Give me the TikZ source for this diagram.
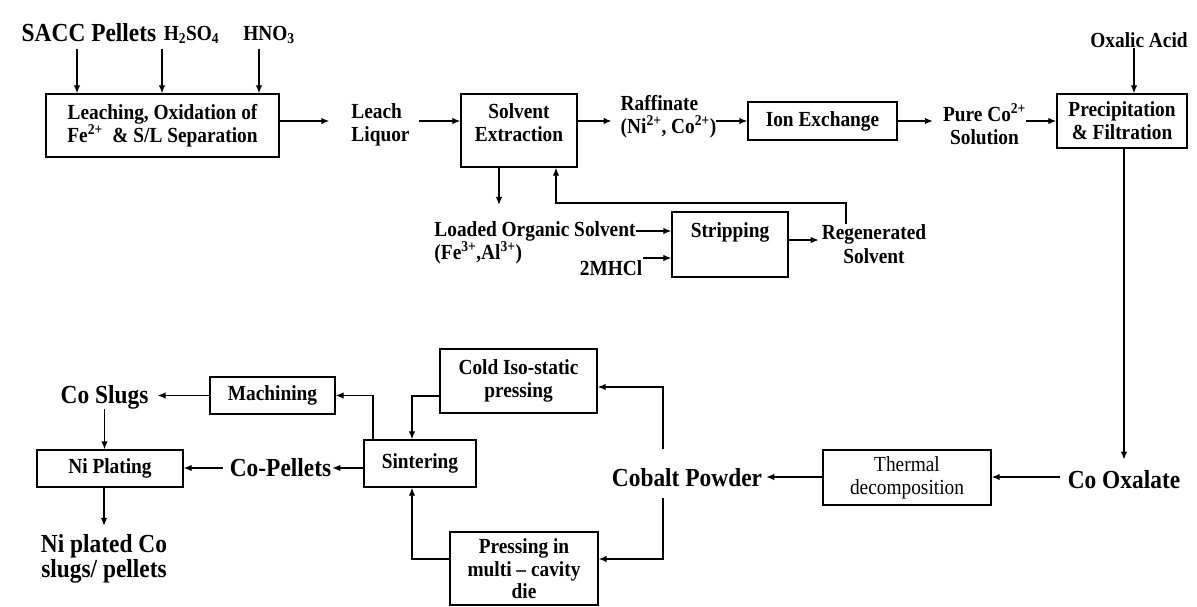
\documentclass[tikz,border=0pt]{standalone}
\usepackage{fontspec}
\setmainfont{Liberation Serif}[FakeStretch=0.9]
\usetikzlibrary{arrows.meta,calc}
\begin{document}
\begin{tikzpicture}[x=1pt,y=-1pt,
  box/.style={draw, line width=1.4pt, inner sep=0pt, align=center, font=\bfseries\fontsize{21.5}{23}\selectfont},
  frame/.style={draw, line width=1.4pt, inner sep=0pt},
  lbl/.style={inner sep=0pt, align=center, font=\bfseries\fontsize{21.5}{23}\selectfont},
  big/.style={inner sep=0pt, align=center, font=\bfseries\fontsize{26}{25}\selectfont},
  arr/.style={line width=1.3pt, -{Latex[length=8pt,width=6.5pt]}}]
\useasboundingbox[fill=white] (0,0) rectangle (1197,606);

% rows
\coordinate (r1) at (0,121);
\coordinate (r2) at (0,231);
\coordinate (r2b) at (0,258);
\coordinate (r2c) at (0,240);
\coordinate (ret) at (0,203);
\coordinate (r3) at (0,477);
\coordinate (cpx) at (663,0);

% top row
\node[big] (sacc) at (89,33) {SACC Pellets};
\node[lbl] (h2so4) at (191.5,35) {H\textsubscript{2}SO\textsubscript{4}};
\node[lbl] (hno3) at (269,35) {HNO\textsubscript{3}};
\node[box, minimum width=233, minimum height=63] (leach) at (162.5,125.5) {Leaching, Oxidation of\\Fe\textsuperscript{2+}\ \ \& S/L Separation};
\node[lbl, align=left] (liq) at (380.5,124.5) {Leach\\Liquor};
\node[frame, minimum width=116, minimum height=73] (se) at (519,130.5) {};
\node[lbl] (set) at (519,123) {Solvent\\Extraction};
\node[lbl, align=left] (raff) at (668.5,116.5) {Raffinate\\(Ni\textsuperscript{2+}, Co\textsuperscript{2+})};
\node[box, minimum width=149, minimum height=38] (ion) at (822.5,121) {Ion Exchange};
\node[lbl] (pure) at (984.5,124) {Pure Co\textsuperscript{2+}\\Solution};
\node[box, minimum width=130, minimum height=54] (precip) at (1122,121) {Precipitation\\\& Filtration};
\node[lbl] (ox) at (1139,40) {Oxalic Acid};

% stripping loop
\node[lbl, align=left, font=\bfseries\fontsize{21.5}{21}\selectfont] (load) at (535,242.5) {Loaded Organic Solvent\\(Fe\textsuperscript{3+},Al\textsuperscript{3+})};
\node[lbl] (hcl) at (611,268) {2MHCl};
\node[frame, minimum width=116, minimum height=65] (strip) at (730,244.5) {};
\node[lbl] (stript) at (730,232) {Stripping};
\node[lbl, font=\bfseries\fontsize{21.5}{24}\selectfont] (regen) at (874,244) {Regenerated\\Solvent};

% bottom part
\node[big] (coox) at (1124,480) {Co Oxalate};
\node[box, font=\fontsize{21.5}{23}\selectfont, minimum width=168, minimum height=55] (therm) at (907,477.5) {Thermal\\decomposition};
\node[big] (cp) at (687,478) {Cobalt Powder};
\node[box, minimum width=157, minimum height=64] (cold) at (518.5,381) {Cold Iso-static\\pressing};
\node[frame, minimum width=148, minimum height=73] (press) at (524,568.5) {};
\node[lbl, font=\bfseries\fontsize{21.5}{22.5}\selectfont] (presst) at (524,569) {Pressing in\\multi \textendash{} cavity\\die};
\node[box, minimum width=112, minimum height=47] (sint) at (420,463.5) {Sintering};
\node[box, minimum width=125, minimum height=37] (mach) at (272.5,395.5) {Machining};
\node[big] (cos) at (104.5,397) {Co Slugs};
\node[big] (copel) at (280.5,468) {Co-Pellets};
\node[box, minimum width=146, minimum height=37] (nip) at (110,468.5) {Ni Plating};
\node[big] (nipl) at (104,558.5) {Ni plated Co\\slugs/ pellets};

% connectors top
\draw[arr] ($(sacc.south)+(-12,7)$) -- ($(sacc.south |- leach.north)+(-12,0)$);
\draw[arr] ($(h2so4.south)+(-29.5,5)$) -- ($(h2so4.south |- leach.north)+(-29.5,0)$);
\draw[arr] ($(hno3.south)+(-10,5)$) -- ($(hno3.south |- leach.north)+(-10,0)$);
\draw[arr] (leach.east |- r1) -- ($(liq.west |- r1)+(-22,0)$);
\draw[arr] ($(liq.east |- r1)+(9,0)$) -- (se.west |- r1);
\draw[arr] (se.east |- r1) -- ($(raff.west |- r1)+(-9,0)$);
\draw[arr] (raff.east |- r1) -- (ion.west |- r1);
\draw[arr] (ion.east |- r1) -- ($(pure.west |- r1)+(-10,0)$);
\draw[arr] (pure.east |- r1) -- (precip.west |- r1);
\draw[arr] ($(ox.south)+(-5,0)$) -- ($(ox.south |- precip.north)+(-5,0)$);

% stripping loop connectors
\draw[arr] ($(se.south)+(-20,0)$) -- ($(se.south |- load.north)+(-20,-16)$);
\draw[arr] (load.east |- r2) -- (strip.west |- r2);
\draw[arr] ($(hcl.east |- r2b)+(1,0)$) -- (strip.west |- r2b);
\draw[arr] (strip.east |- r2c) -- ($(regen.west |- r2c)+(-3,0)$);
\draw[arr] ($(regen.north)+(-28,0)$) -- ($(regen.north |- ret)+(-28,0)$) -| ($(se.south)+(37,0)$);

% bottom connectors
\draw[arr] ($(precip.south)+(2,0)$) -- ($(precip.south |- coox.north)+(2,-11)$);
\draw[arr] ($(coox.west |- r3)+(-8,0)$) -- (therm.east |- r3);
\draw[arr] (therm.west |- r3) -- ($(cp.east |- r3)+(4,0)$);
\draw[arr] ($(cp.north -| cpx)+(0,-20)$) |- ($(cold.east)+(0,6)$);
\draw[arr] ($(cp.south -| cpx)+(0,11)$) |- ($(press.east)+(0,-9.5)$);
\draw[arr] ($(cold.west)+(0,15)$) -| ($(sint.north)+(-8,0)$);
\draw[arr] ($(press.west)+(0,-9.5)$) -| ($(sint.south)+(-8,0)$);
\draw[arr] ($(sint.north)+(-47,0)$) |- (mach.east);
\draw[arr] (mach.west) -- ($(cos.east |- mach.west)+(9,0)$);
\draw[arr] (cos.south) -- (cos.south |- nip.north);
\draw[arr] ($(sint.west)+(0,4.5)$) -- ($(copel.east |- sint.west)+(1,4.5)$);
\draw[arr] ($(copel.west)+(-7,0)$) -- (nip.east |- copel.west);
\draw[arr] ($(nip.south)+(-6,0)$) -- ($(nip.south |- nipl.north)+(-6,-8)$);
\end{tikzpicture}
\end{document}
